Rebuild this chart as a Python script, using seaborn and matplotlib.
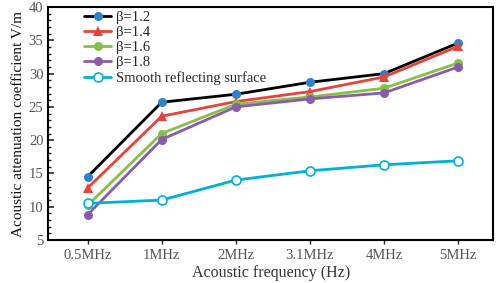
import numpy as np
import pandas as pd
import matplotlib
matplotlib.use("Agg")
import matplotlib.pyplot as plt
import matplotlib.ticker as ticker
import seaborn as sns

freqs = ["0.5MHz", "1MHz", "2MHz", "3.1MHz", "4MHz", "5MHz"]
beta_12 = [14.5, 25.7, 26.9, 28.7, 30.0, 34.6]
beta_14 = [12.8, 23.6, 25.8, 27.3, 29.5, 34.1]
beta_16 = [10.2, 21.0, 25.4, 26.5, 27.8, 31.6]
beta_18 = [8.8, 20.1, 25.0, 26.2, 27.1, 31.0]
smooth = [10.5, 11.0, 14.0, 15.4, 16.3, 16.9]

series_names = ["β=1.2", "β=1.4", "β=1.6", "β=1.8", "Smooth reflecting surface"]
series_vals = [beta_12, beta_14, beta_16, beta_18, smooth]

sns.set_style("white")
plt.rcParams["font.family"] = ["Liberation Serif", "DejaVu Serif"]

rows = []
for name, vals in zip(series_names, series_vals):
    for i, (f, v) in enumerate(zip(freqs, vals)):
        rows.append({"Frequency": f, "pos": i, "Series": name, "Value": v})
df = pd.DataFrame(rows)

# line colour, marker colour, marker, filled
styles = {
    "β=1.2": ("#000000", "#2a82d0", "o", True),
    "β=1.4": ("#e8433a", "#e8433a", "^", True),
    "β=1.6": ("#86c045", "#86c045", "o", True),
    "β=1.8": ("#8a5aae", "#8a5aae", "o", True),
    "Smooth reflecting surface": ("#00b2d2", "#00b2d2", "o", False),
}

fig, ax = plt.subplots(figsize=(4.98, 2.83), dpi=100)
for name in series_names:
    lc, mc, mk, filled = styles[name]
    sub = df[df["Series"] == name]
    sns.lineplot(data=sub, x="pos", y="Value", ax=ax, color=lc, linewidth=2,
                 marker=mk, markersize=6.5, markerfacecolor=mc if filled else "white",
                 markeredgecolor=mc, markeredgewidth=1.2 if not filled else 0,
                 label=name)

ax.set_xlim(-0.53, 5.47)
ax.set_ylim(5, 40)
ax.set_xticks(range(len(freqs)))
ax.set_xticklabels(freqs)
ax.yaxis.set_major_locator(ticker.MultipleLocator(5))
ax.yaxis.set_minor_locator(ticker.MultipleLocator(1))
ax.tick_params(axis="y", which="major", direction="in", length=4, width=1.2,
               labelsize=10.5, labelcolor="#555555", left=True)
ax.tick_params(axis="y", which="minor", direction="in", length=2.5, width=1, left=True)
ax.tick_params(axis="x", direction="out", length=3, width=1, labelsize=10.5,
               labelcolor="#555555", bottom=True)
for s in ax.spines.values():
    s.set_color("black")
    s.set_linewidth(1.5)

ax.set_xlabel("Acoustic frequency (Hz)", fontsize=11.5, color="#333333", labelpad=2)
ax.set_ylabel("Acoustic attenuation coefficient V/m", fontsize=11, color="#111111", labelpad=3)

leg = ax.legend(loc="upper left", bbox_to_anchor=(0.06, 1.02), frameon=False, fontsize=10.5,
                handlelength=1.9, labelspacing=0.12, borderaxespad=0.2, handletextpad=0.3)

fig.subplots_adjust(left=0.097, right=0.99, top=0.975, bottom=0.152)
fig.savefig("out.png", dpi=100)
